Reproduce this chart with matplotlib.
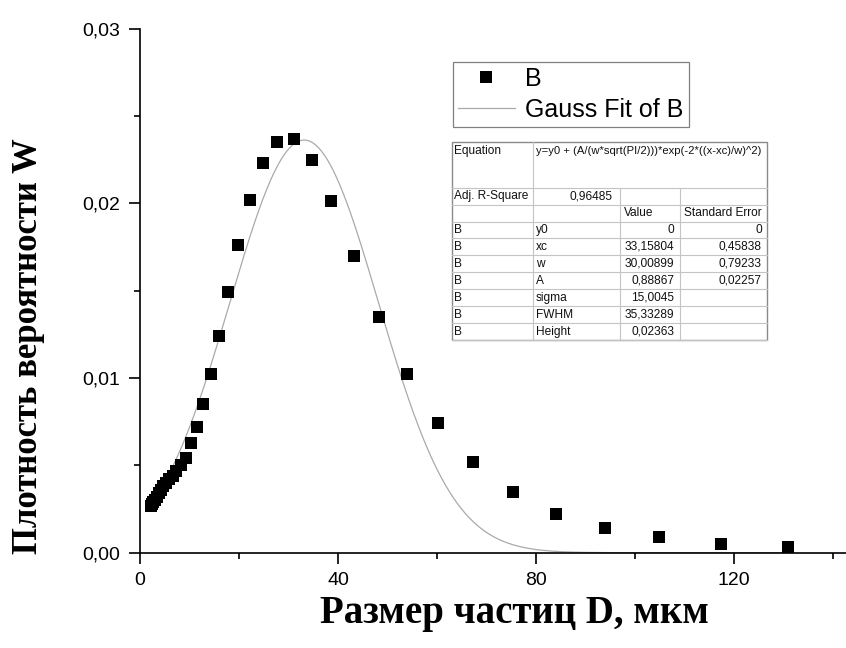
import numpy as np
import matplotlib
matplotlib.use('Agg')
import matplotlib.pyplot as plt
from matplotlib.ticker import MultipleLocator, FuncFormatter

size_d = [2.17, 2.43, 2.71, 3.03, 3.38, 3.78, 4.22, 4.71, 5.27, 5.88, 6.57,
          7.34, 8.20, 9.19, 10.20, 11.55, 12.77, 14.24, 15.86, 17.74, 19.84,
          22.18, 24.81, 27.72, 31.07, 34.65, 38.55, 43.19, 48.24, 53.84,
          60.24, 67.31, 75.31, 84.00, 93.90, 104.90, 117.30, 130.90]
density_w = [0.0027, 0.0028, 0.0029, 0.0030, 0.0032, 0.0034, 0.0036, 0.0038,
             0.0040, 0.0042, 0.0044, 0.0047, 0.0050, 0.00545, 0.00627, 0.00722,
             0.0085, 0.01023, 0.01241, 0.01491, 0.01762, 0.0202, 0.0223,
             0.02354, 0.02369, 0.02249, 0.02016, 0.01701, 0.01352, 0.01023,
             0.00743, 0.00517, 0.00348, 0.00223, 0.00141, 0.00088, 0.00052,
             0.0003]

# Gauss fit parameters as printed in the table
fit_y0 = 0.0
fit_xc = 33.15804
fit_w = 30.00899
fit_a = 0.88867

equation = "y=y0 + (A/(w*sqrt(PI/2)))*exp(-2*((x-xc)/w)^2)"
adj_r2 = "0,96485"
param_rows = [
    ("", "", "Value", "Standard Error"),
    ("B", "y0", "0", "0"),
    ("B", "xc", "33,15804", "0,45838"),
    ("B", "w", "30,00899", "0,79233"),
    ("B", "A", "0,88867", "0,02257"),
    ("B", "sigma", "15,0045", ""),
    ("B", "FWHM", "35,33289", ""),
    ("B", "Height", "0,02363", ""),
]

W, H = 846, 648
fig = plt.figure(figsize=(W / 100, H / 100), dpi=100)
ax = fig.add_axes([140 / W, 95.3 / H, 708 / W, 523.9 / H])

x_fit = np.linspace(size_d[0], size_d[-1], 500)
y_fit = fit_y0 + fit_a / (fit_w * np.sqrt(np.pi / 2)) * np.exp(-2 * ((x_fit - fit_xc) / fit_w) ** 2)

pts, = ax.plot(size_d, density_w, 's', color='black', markersize=9,
               markeredgewidth=0, label='B', zorder=3)
fitl, = ax.plot(x_fit, y_fit, '-', color='#aaaaaa', linewidth=0.9,
                label='Gauss Fit of B', zorder=2)

ax.set_xlim(0, 143)
ax.set_ylim(0, 0.03)
ax.xaxis.set_major_locator(MultipleLocator(40))
ax.xaxis.set_minor_locator(MultipleLocator(20))
ax.yaxis.set_major_locator(MultipleLocator(0.01))
ax.yaxis.set_minor_locator(MultipleLocator(0.005))
ax.yaxis.set_major_formatter(FuncFormatter(lambda v, p: f"{v:.2f}".replace('.', ',')))

for s in ['top', 'right']:
    ax.spines[s].set_visible(False)
for s in ['left', 'bottom']:
    ax.spines[s].set_linewidth(1.2)
    ax.spines[s].set_zorder(5)
ax.tick_params(which='major', direction='out', length=8, width=1.2, pad=6,
               labelsize=14)
ax.tick_params(which='minor', direction='out', length=4.5, width=1.2)
for lab in ax.get_xticklabels() + ax.get_yticklabels():
    lab.set_fontfamily('Liberation Sans')

fig.text(514 / W, 1 - 614 / H, "Размер частиц D, мкм", family='Liberation Serif',
         weight='bold', fontsize=28, ha='center', va='center')
fig.text(29 / W, 1 - 346 / H, "Плотность вероятности W", family='Liberation Serif',
         weight='bold', fontsize=25, ha='center', va='center', rotation=90)

leg = ax.legend(handles=[pts, fitl], loc='upper left',
                bbox_to_anchor=(452.7 / W, 1 - 61.7 / H), bbox_transform=fig.transFigure,
                prop={'family': 'Liberation Sans', 'size': 18}, numpoints=1,
                handlelength=2.3, handletextpad=0.4, borderpad=0.2,
                labelspacing=0.28, borderaxespad=0, fancybox=False,
                edgecolor='#808080', framealpha=1)
leg.get_frame().set_linewidth(0.9)

# result table drawn in figure pixel space
tab = fig.add_axes([0, 0, 1, 1], zorder=4)
tab.set_xlim(0, W)
tab.set_ylim(H, 0)
tab.axis('off')
cols = [451.7, 533.3, 620.0, 680.0, 766.7]
top, eq_bot, bot = 142.3, 187.7, 340.0
rh = (bot - eq_bot) / 9
tab.add_patch(plt.Rectangle((cols[0], top), cols[-1] - cols[0], bot - top,
                            facecolor='white', edgecolor='none'))
grid_c = '#c4c4c4'
for i in range(10):
    y = eq_bot + i * rh
    tab.plot([cols[0], cols[-1]], [y, y], color=grid_c, lw=0.8)
tab.plot([cols[1], cols[1]], [top, bot], color=grid_c, lw=0.8)
for c in cols[2:4]:
    tab.plot([c, c], [eq_bot, bot], color=grid_c, lw=0.8)
tab.add_patch(plt.Rectangle((cols[0], top), cols[-1] - cols[0], bot - top,
                            facecolor='none', edgecolor='#8a8a8a', lw=1.0))

tf = dict(family='Liberation Sans', fontsize=8.6, va='center', color='#111111')
tab.text(cols[0] + 2.5, 151, "Equation", **tf)
tab.text(cols[1] + 2.5, 151, equation, **dict(tf, fontsize=8.1))
yc = eq_bot + rh / 2
tab.text(cols[0] + 2.5, yc, "Adj. R-Square", **tf)
tab.text(cols[2] - 7, yc, adj_r2, ha='right', **tf)
for i, (a, b, v, e) in enumerate(param_rows):
    yc = eq_bot + (i + 1.5) * rh
    tab.text(cols[0] + 2.5, yc, a, **tf)
    tab.text(cols[1] + 2.5, yc, b, **tf)
    if i == 0:
        tab.text(cols[2] + 4, yc, v, **tf)
        tab.text(cols[3] + 4, yc, e, **tf)
    else:
        tab.text(cols[3] - 6, yc, v, ha='right', **tf)
        tab.text(cols[4] - 5, yc, e, ha='right', **tf)

fig.savefig('out.png', dpi=100)
